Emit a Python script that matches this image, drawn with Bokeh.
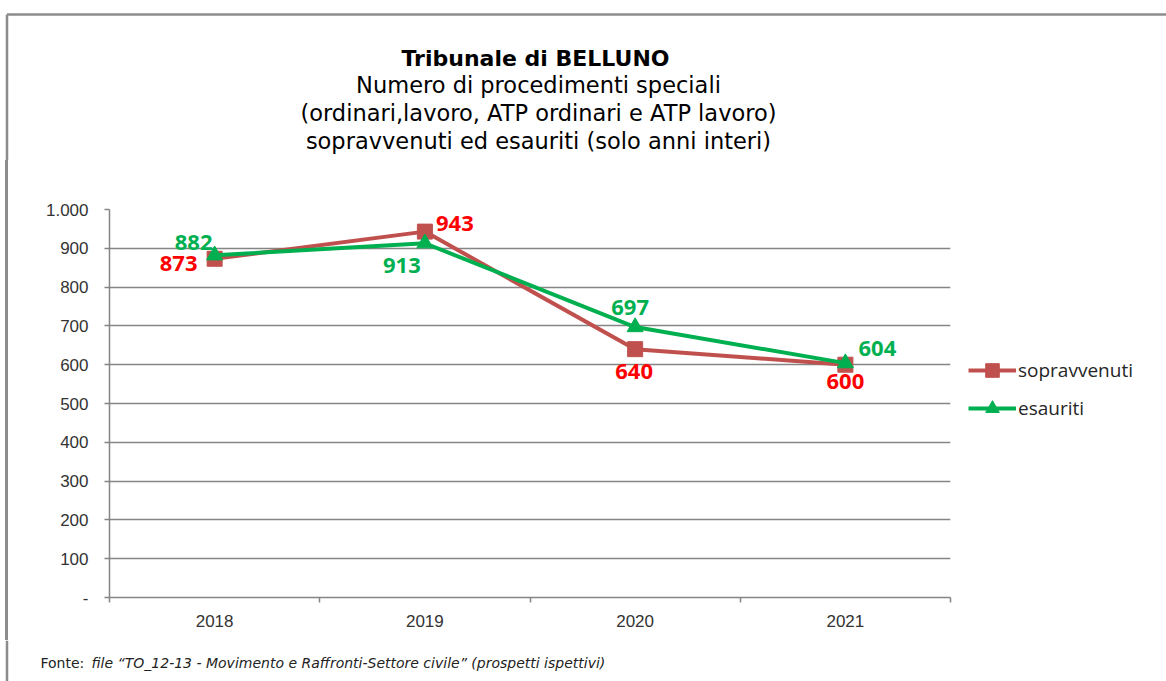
from bokeh.plotting import figure
from bokeh.layouts import column, row
from bokeh.models import Range1d, FixedTicker, Legend, LegendItem
from bokeh.core.properties import value
from bokeh.embed import file_html
from bokeh.resources import INLINE

# ---- data ----
years = ["2018", "2019", "2020", "2021"]
sopravvenuti = [873, 943, 640, 600]
esauriti = [882, 913, 697, 604]
series_names = ["sopravvenuti", "esauriti"]
y_ticks = [0, 100, 200, 300, 400, 500, 600, 700, 800, 900, 1000]
y_tick_labels = ["-", "100", "200", "300", "400", "500", "600", "700", "800", "900", "1.000"]
title_main = "Tribunale di BELLUNO"
title_sub = ["Numero di procedimenti speciali",
             "(ordinari,lavoro, ATP ordinari e ATP lavoro)",
             "sopravvenuti ed esauriti (solo anni interi)"]
footer_prefix = "Fonte:"
footer_italic = "file \u201cTO_12-13 - Movimento e Raffronti-Settore civile\u201d (prospetti ispettivi)"

# ---- styles ----
RED = "#C0504D"
GREEN = "#00B050"
GRID = "#858585"
BORDER = "#8c8c8c"
W = 1166
TOP_H, MAIN_H, FOOT_H = 160, 480, 41
MAIN_W = 960


def blank(width, height, x0, y0):
    f = figure(width=width, height=height, output_backend="svg", toolbar_location=None,
               x_range=Range1d(x0, x0 + width), y_range=Range1d(y0 + height, y0),
               x_axis_type=None, y_axis_type=None, frame_align=False,
               min_border_left=0, min_border_right=0, min_border_top=0, min_border_bottom=0)
    f.grid.visible = False
    f.outline_line_color = None
    f.background_fill_color = "white"
    f.border_fill_color = "white"
    return f


# ---- title strip (page coordinates) ----
top = blank(W, TOP_H, 0, 0)
top.line([6.5, W], [14, 14], line_color=BORDER, line_width=2.5)
top.line([6.5, 6.5], [14, TOP_H], line_color=BORDER, line_width=2.5)
top.text([535], [58], text=[title_main], text_align="center", text_baseline="middle",
         text_font=value("DejaVu Sans"), text_font_style="bold", text_font_size="22px",
         text_color="#000000")
top.text([538] * len(title_sub), [84, 112, 140], text=title_sub, text_align="center",
         text_baseline="middle", text_font=value("DejaVu Sans"), text_font_size="22.5px",
         text_color="#000000")

# ---- main chart ----
xpos = [i + 0.5 for i in range(len(years))]
boundaries = list(range(len(years) + 1))

p = figure(width=MAIN_W, height=MAIN_H, output_backend="svg", toolbar_location=None,
           x_range=Range1d(0, len(years)), y_range=Range1d(0, 1000), frame_align=False,
           min_border_left=109, min_border_right=MAIN_W - 950,
           min_border_top=209 - TOP_H, min_border_bottom=TOP_H + MAIN_H - 597)
p.outline_line_color = None
p.background_fill_color = "white"
p.border_fill_alpha = 0
p.styles = {"background": "linear-gradient(to right, #ffffff 0px, #ffffff 5.25px, %s 5.25px, %s 7.75px, #ffffff 7.75px)" % (BORDER, BORDER)}

p.xgrid.grid_line_color = None
p.ygrid.ticker = FixedTicker(ticks=y_ticks)
p.ygrid.grid_line_color = GRID
p.ygrid.grid_line_width = 1.5

p.yaxis.ticker = FixedTicker(ticks=y_ticks)
p.yaxis.major_label_overrides = {t: l for t, l in zip(y_ticks, y_tick_labels)}
p.yaxis.axis_line_color = GRID
p.yaxis.axis_line_width = 1.5
p.yaxis.major_tick_line_color = GRID
p.yaxis.major_tick_line_width = 1.5
p.yaxis.major_tick_in = 0
p.yaxis.major_tick_out = 5
p.yaxis.minor_tick_line_color = None
p.yaxis.major_label_text_font = "Liberation Sans"
p.yaxis.major_label_text_font_size = "17px"
p.yaxis.major_label_text_color = "#333333"
p.yaxis.major_label_standoff = 16

p.xaxis.ticker = FixedTicker(ticks=xpos, minor_ticks=boundaries)
p.xaxis.major_label_overrides = {x: y for x, y in zip(xpos, years)}
p.xaxis.axis_line_color = GRID
p.xaxis.axis_line_width = 1.5
p.xaxis.major_tick_line_color = None
p.xaxis.minor_tick_line_color = GRID
p.xaxis.minor_tick_line_width = 1.5
p.xaxis.minor_tick_in = 0
p.xaxis.minor_tick_out = 5
p.xaxis.major_label_text_font = "Liberation Sans"
p.xaxis.major_label_text_font_size = "17px"
p.xaxis.major_label_text_color = "#333333"
p.xaxis.major_label_standoff = 11

p.line(xpos, sopravvenuti, line_color=RED, line_width=4)
p.scatter(xpos, sopravvenuti, marker="square", size=15, fill_color=RED, line_color=RED)
p.line(xpos, esauriti, line_color=GREEN, line_width=4)
p.scatter(xpos, esauriti, marker="triangle", size=16, fill_color=GREEN, line_color=GREEN)

red_dx = [-36, 30, -1, 0]
red_dy = [5, -8, 22, 17]
green_dx = [-21, -23, -5, 32]
green_dy = [-13, 22, -20, -15]
p.text(xpos, sopravvenuti, text=[str(v) for v in sopravvenuti], x_offset=red_dx, y_offset=red_dy,
       text_align="center", text_baseline="middle", text_font=value("Open Sans"),
       text_font_style="bold", text_font_size="22px", text_color="#FF0000")
p.text(xpos, esauriti, text=[str(v) for v in esauriti], x_offset=green_dx, y_offset=green_dy,
       text_align="center", text_baseline="middle", text_font=value("Open Sans"),
       text_font_style="bold", text_font_size="22px", text_color=GREEN)

# ---- legend strip (page coordinates) ----
# the series are re-plotted here only to give the legend its glyphs; they fall outside this
# strip's x range, so nothing but the legend is visible
leg = blank(W - MAIN_W, MAIN_H, MAIN_W, TOP_H)
lr1 = leg.line(xpos, sopravvenuti, line_color=RED, line_width=4)
ls1 = leg.scatter(xpos, sopravvenuti, marker="square", size=15, fill_color=RED, line_color=RED)
lr2 = leg.line(xpos, esauriti, line_color=GREEN, line_width=4)
ls2 = leg.scatter(xpos, esauriti, marker="triangle", size=16, fill_color=GREEN, line_color=GREEN)
legend = Legend(items=[LegendItem(label=series_names[0], renderers=[lr1, ls1]),
                       LegendItem(label=series_names[1], renderers=[lr2, ls2])],
                location=(968 - MAIN_W, TOP_H + MAIN_H - 425), glyph_width=48, glyph_height=34,
                label_standoff=2, spacing=4, padding=0, margin=0, border_line_color=None,
                background_fill_alpha=0, label_text_font="Open Sans",
                label_text_font_size="19px", label_text_color="#262626")
leg.add_layout(legend)

# ---- footer strip (page coordinates) ----
foot = blank(W, FOOT_H, 0, TOP_H + MAIN_H)
foot.line([6.5, 6.5], [TOP_H + MAIN_H, TOP_H + MAIN_H + FOOT_H], line_color=BORDER, line_width=2.5)
foot.text([40], [662], text=[footer_prefix], text_align="left", text_baseline="middle",
          text_font=value("DejaVu Sans"), text_font_size="14px", text_color="#222222")
foot.text([91], [662], text=[footer_italic], text_align="left", text_baseline="middle",
          text_font=value("DejaVu Sans"), text_font_style="italic", text_font_size="14px",
          text_color="#222222")

layout = column(top, row(p, leg, spacing=0), foot, spacing=0)
open("out.html", "w").write(file_html(layout, INLINE))
